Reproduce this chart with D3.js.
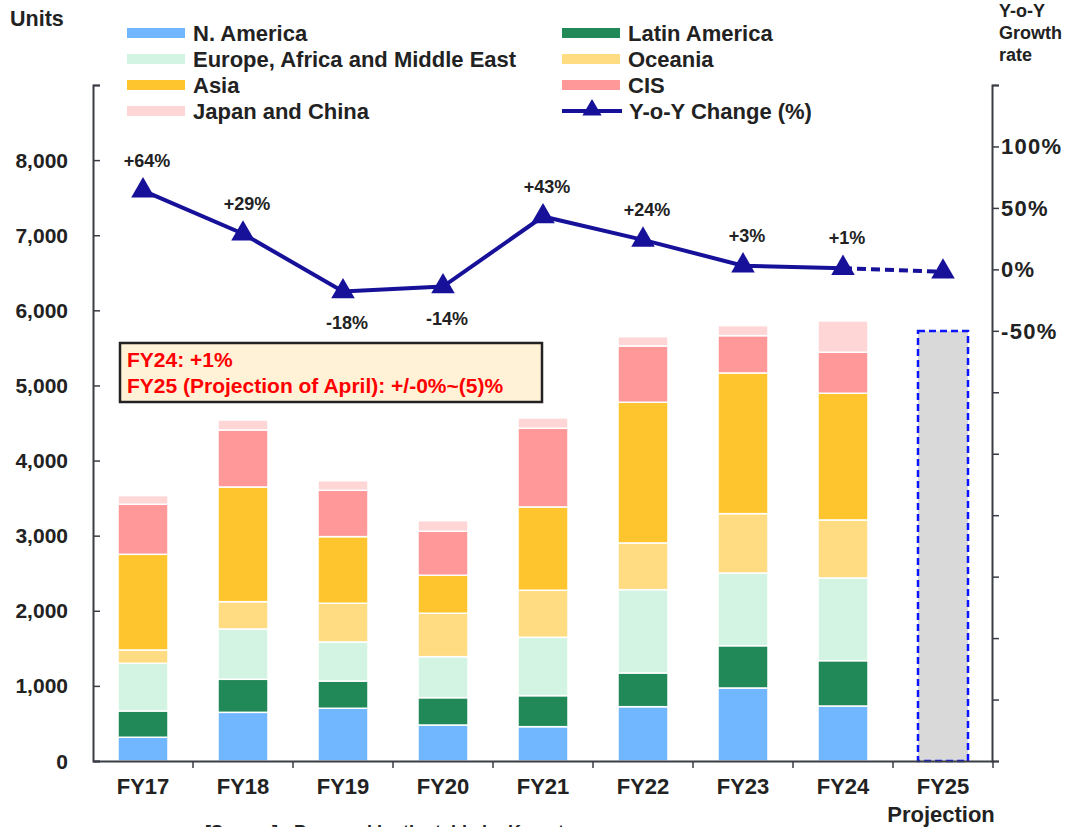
<!DOCTYPE html>
<html>
<head>
<meta charset="utf-8">
<script src="https://cdn.jsdelivr.net/npm/d3@7"></script>
<style>
  body { margin: 0; background: #fff; }
  text { font-family: "Liberation Sans", Arial, sans-serif; font-weight: bold; fill: #222; }
  .narrow { font-family: "Liberation Sans Narrow", "Liberation Sans", Arial, sans-serif; }
</style>
</head>
<body>
<div id="chart"></div>
<script>
// fiscal years and regional unit sales
const years = ["FY17", "FY18", "FY19", "FY20", "FY21", "FY22", "FY23", "FY24", "FY25"];
const regions = ["N. America", "Latin America", "Europe, Africa and Middle East", "Oceania", "Asia", "CIS", "Japan and China"];
const regionColors = ["#70b7ff", "#218858", "#d3f4e3", "#ffdc82", "#ffc52e", "#ff9999", "#ffd6d6"];

const nAmerica  = [316, 648, 702, 479, 457, 723, 972, 732];
const latinAm   = [350, 440, 363, 364, 413, 449, 563, 604];
const eame      = [635, 670, 520, 546, 777, 1109, 968, 1101];
const oceania   = [177, 363, 515, 578, 626, 622, 790, 772];
const asia      = [1274, 1527, 887, 506, 1109, 1873, 1873, 1687];
const cis       = [666, 759, 618, 586, 1048, 750, 497, 546];
const japanCh   = [115, 133, 127, 141, 137, 124, 133, 417];
const projection = 5726; // FY25 projected total

const yoy = [64, 29, -18, -14, 43, 24, 3, 1, -2];
const yoyLabels = ["+64%", "+29%", "-18%", "-14%", "+43%", "+24%", "+3%", "+1%", ""];

const leftTicks = [0, 1000, 2000, 3000, 4000, 5000, 6000, 7000, 8000, 9000];
const rightTicks = [150, 100, 50, 0, -50, -100, -150, -200, -250, -300, -350, -400];
const rightLabeled = [100, 50, 0, -50];

const width = 1067, height = 827;
const svg = d3.select("#chart").append("svg")
    .attr("width", width).attr("height", height);

const x = d3.scaleBand().domain(years).range([93, 993]).paddingInner(0.5).paddingOuter(0.25);
const y = d3.scaleLinear().domain([0, 9000]).range([761, 85]);
const y2 = d3.scaleLinear().domain([-400, 150]).range([761, 85]);

// stacked bars
const series = [nAmerica, latinAm, eame, oceania, asia, cis, japanCh];
const rows = years.slice(0, 8).map((yr, i) => {
  const r = {year: yr};
  regions.forEach((k, j) => r[k] = series[j][i]);
  return r;
});
const stack = d3.stack().keys(regions)(rows);

svg.append("g").selectAll("g")
  .data(stack)
  .join("g")
    .attr("fill", (d, i) => regionColors[i])
  .selectAll("rect")
  .data(d => d)
  .join("rect")
    .attr("x", d => x(d.data.year))
    .attr("width", x.bandwidth())
    .attr("y", d => y(d[1]))
    .attr("height", d => y(d[0]) - y(d[1]))
    .attr("stroke", "#fff")
    .attr("stroke-width", 1.5);

// projection bar
svg.append("rect")
    .attr("x", x("FY25"))
    .attr("width", x.bandwidth())
    .attr("y", y(projection))
    .attr("height", y(0) - y(projection))
    .attr("fill", "#d9d9d9")
    .attr("stroke", "#0a14ff")
    .attr("stroke-width", 2.5)
    .attr("stroke-dasharray", "7,4");

// axes
const axisColor = "#3a3d45";
const leftAxis = svg.append("g").attr("transform", "translate(93,0)")
    .call(d3.axisRight(y).tickValues(leftTicks).tickSize(7).tickFormat(""));
leftAxis.select(".domain").attr("stroke", axisColor).attr("stroke-width", 2);
leftAxis.selectAll(".tick line").attr("stroke", axisColor).attr("stroke-width", 1.5);

svg.append("g").selectAll("text")
  .data(leftTicks.filter(d => d <= 8000))
  .join("text")
    .attr("x", 68)
    .attr("y", d => y(d))
    .attr("dy", "0.36em")
    .attr("text-anchor", "end")
    .attr("font-size", 21)
    .text(d => d3.format(",")(d));

const rightAxis = svg.append("g").attr("transform", "translate(992,0)")
    .call(d3.axisRight(y2).tickValues(rightTicks).tickSize(7).tickFormat(""));
rightAxis.select(".domain").attr("stroke", axisColor).attr("stroke-width", 2);
rightAxis.selectAll(".tick line").attr("stroke", axisColor).attr("stroke-width", 1.5);

svg.append("g").selectAll("text")
  .data(rightLabeled)
  .join("text")
    .attr("x", 1001)
    .attr("y", d => y2(d))
    .attr("dy", "0.36em")
    .attr("font-size", 22)
    .attr("letter-spacing", 1.3)
    .text(d => d + "%");

const bottom = svg.append("g").attr("transform", "translate(0,761)")
    .call(d3.axisBottom(x).tickSize(0).tickFormat(""));
bottom.select(".domain").attr("stroke", axisColor).attr("stroke-width", 2);
svg.append("g").selectAll("line")
  .data(years)
  .join("line")
    .attr("x1", d => x(d) + x.bandwidth() + x.step() * 0.25)
    .attr("x2", d => x(d) + x.bandwidth() + x.step() * 0.25)
    .attr("y1", 761).attr("y2", 768)
    .attr("stroke", axisColor).attr("stroke-width", 1.5);

svg.append("g").selectAll("text")
  .data(years)
  .join("text")
    .attr("class", "narrow")
    .attr("x", d => x(d) + x.bandwidth() / 2)
    .attr("y", 794)
    .attr("text-anchor", "middle")
    .attr("font-size", 22)
    .text(d => d);
svg.append("text").attr("class", "narrow")
    .attr("x", x("FY25") + x.bandwidth() / 2 - 2).attr("y", 822)
    .attr("text-anchor", "middle").attr("font-size", 22)
    .text("Projection");

// Y-o-Y line
const lineColor = "#17119a";
const pts = yoy.map((v, i) => [x(years[i]) + x.bandwidth() / 2, y2(v)]);
svg.append("path")
    .attr("d", d3.line()(pts.slice(0, 8)))
    .attr("fill", "none").attr("stroke", lineColor).attr("stroke-width", 4);
svg.append("path")
    .attr("d", d3.line()(pts.slice(7)))
    .attr("fill", "none").attr("stroke", lineColor).attr("stroke-width", 4)
    .attr("stroke-dasharray", "9,5");

const tri = d3.symbol().type(d3.symbolTriangle).size(240);
svg.append("g").selectAll("path")
  .data(pts)
  .join("path")
    .attr("transform", d => `translate(${d[0]},${d[1]})`)
    .attr("d", tri)
    .attr("fill", lineColor);

svg.append("g").selectAll("text")
  .data(yoy.map((v, i) => ({v, i})))
  .join("text")
    .attr("x", d => pts[d.i][0] + 4)
    .attr("y", d => pts[d.i][1] + (d.v >= 0 ? -24 : 38))
    .attr("text-anchor", "middle")
    .attr("font-size", 18)
    .text(d => yoyLabels[d.i]);

// annotation box
svg.append("rect")
    .attr("x", 120).attr("y", 343).attr("width", 422).attr("height", 59)
    .attr("fill", "#fff2d6").attr("stroke", "#222").attr("stroke-width", 2.5);
svg.append("text").attr("x", 127).attr("y", 367).attr("font-size", 21)
    .style("fill", "#ff0000").text("FY24: +1%");
svg.append("text").attr("x", 127).attr("y", 393).attr("font-size", 21)
    .style("fill", "#ff0000").text("FY25 (Projection of April): +/-0%~(5)%");

// titles
svg.append("text").attr("x", 10).attr("y", 26).attr("font-size", 21.5).text("Units");
svg.selectAll(".rt").data(["Y-o-Y", "Growth", "rate"]).join("text")
    .attr("x", 999).attr("y", (d, i) => 17 + i * 22)
    .attr("font-size", 18).text(d => d);

// legend
const legendItems = [
  {name: regions[0], color: regionColors[0], col: 0, row: 0},
  {name: regions[2], color: regionColors[2], col: 0, row: 1},
  {name: regions[4], color: regionColors[4], col: 0, row: 2},
  {name: regions[6], color: regionColors[6], col: 0, row: 3},
  {name: regions[1], color: regionColors[1], col: 1, row: 0},
  {name: regions[3], color: regionColors[3], col: 1, row: 1},
  {name: regions[5], color: regionColors[5], col: 1, row: 2}
];
const colX = [127, 562];
const legend = svg.append("g").selectAll("g")
  .data(legendItems)
  .join("g")
    .attr("transform", d => `translate(${colX[d.col]},${33 + d.row * 26})`);
legend.append("rect")
    .attr("x", 0).attr("y", -5).attr("width", 58).attr("height", 10)
    .attr("fill", d => d.color);
legend.append("text")
    .attr("x", 66).attr("y", 0).attr("dy", "0.36em")
    .attr("font-size", 22).text(d => d.name);

const yoyLeg = svg.append("g").attr("transform", `translate(${colX[1]},${33 + 3 * 26})`);
yoyLeg.append("line").attr("x1", 0).attr("x2", 60).attr("y1", 0).attr("y2", 0)
    .attr("stroke", lineColor).attr("stroke-width", 4);
yoyLeg.append("path").attr("transform", "translate(30,-1)")
    .attr("d", d3.symbol().type(d3.symbolTriangle).size(160)).attr("fill", lineColor);
yoyLeg.append("text").attr("x", 67).attr("y", 0).attr("dy", "0.36em")
    .attr("font-size", 22).text("Y-o-Y Change (%)");

// source note (partly below the bottom edge, as in the original)
svg.append("text").attr("x", 205).attr("y", 838).attr("font-size", 18)
    .text("[Source] : Prepared by the table by Komatsu");
</script>
</body>
</html>
